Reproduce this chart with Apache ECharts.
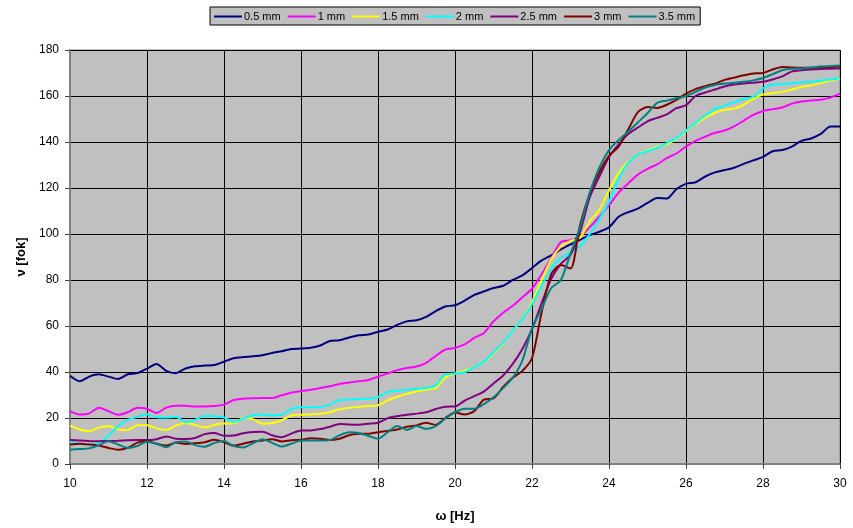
<!DOCTYPE html>
<html>
<head>
<meta charset="utf-8">
<script src="https://cdn.jsdelivr.net/npm/echarts@6/dist/echarts.min.js"></script>
<style>
  html, body { margin: 0; padding: 0; background: #ffffff; }
  #chart { width: 853px; height: 528px; }
</style>
</head>
<body>
<div id="chart"></div>
<script>
// Frequency samples (Hz)
const freq = [
  10, 10.25, 10.5, 10.75, 11, 11.25, 11.5, 11.75,
  12, 12.25, 12.5, 12.75, 13, 13.25, 13.5, 13.75,
  14, 14.25, 14.5, 14.75, 15, 15.25, 15.5, 15.75,
  16, 16.25, 16.5, 16.75, 17, 17.25, 17.5, 17.75,
  18, 18.25, 18.5, 18.75, 19, 19.25, 19.5, 19.75,
  20, 20.25, 20.5, 20.75, 21, 21.25, 21.5, 21.75,
  22, 22.25, 22.5, 22.75, 23, 23.25, 23.5, 23.75,
  24, 24.25, 24.5, 24.75, 25, 25.25, 25.5, 25.75,
  26, 26.25, 26.5, 26.75, 27, 27.25, 27.5, 27.75,
  28, 28.25, 28.5, 28.75, 29, 29.25, 29.5, 29.75,
  30
];

// Phase angle (deg) for each gap width
const gap05 = [
  38.4, 36, 38, 39, 38, 37, 39, 39.5,
  41.5, 43.5, 40.5, 39.5, 41.5, 42.5, 42.8, 43,
  44.5, 46, 46.5, 46.8, 47.3, 48.3, 49, 50,
  50.2, 50.5, 51.5, 53.5, 53.8, 55, 56, 56.3,
  57.5, 58.5, 60.5, 62, 62.5, 64, 66.5, 68.5,
  69, 71, 73.5, 75, 76.5, 77.5, 80, 82,
  85.2, 88.5, 90.7, 93.3, 95.5, 97.5, 99.5, 101,
  102.9, 107.5, 109.5, 111, 113.5, 115.7, 115.4, 119.5,
  121.8, 122.5, 125, 126.8, 127.8, 128.8, 130.5, 132,
  133.5, 136, 136.5, 138, 140.5, 141.5, 143.5, 146.7,
  146.7
];
const gap10 = [
  23, 21.5, 22, 24.5, 23, 21.4, 22.5, 24.5,
  24, 22.2, 24.5, 25.3, 25.3, 25, 25, 25.2,
  25.8, 27.8, 28.4, 28.6, 28.7, 28.7, 29.9, 31,
  31.7, 32.3, 33, 33.8, 34.8, 35.4, 36, 36.5,
  38, 39.4, 40.8, 41.7, 42.4, 44, 47, 49.8,
  50.5, 52, 54.8, 57, 62, 65.8, 68.8, 72.5,
  76.2, 82.5, 89.5, 96.5, 97.3, 99, 103, 107.5,
  112.5, 118, 122, 125.8, 128.3, 130.3, 133, 135,
  138, 140.5, 142.3, 144, 145, 146.8, 149.3, 151.8,
  153.5, 154.3, 155, 156.7, 157.6, 158, 158.4, 159.3,
  161
];
const gap15 = [
  16.7, 15, 14.2, 15.8, 16.5, 15, 14.8, 16.8,
  16.8, 15.5, 14.8, 16.7, 17.8, 17, 15.9, 17,
  17.6, 17.6, 20, 19.5, 17.5, 17.8, 19, 21.1,
  21.4, 21.6, 21.8, 22.5, 23.8, 24.4, 24.9, 25.2,
  25.5, 27.7, 29.2, 30.5, 31.5, 32.4, 33, 37.6,
  39.3, 40.5, 42, 44.5, 48, 52.5, 58, 63,
  70.5, 80, 89, 94.5, 97, 98.5, 105.5, 110.5,
  119, 126.5, 131.5, 134.5, 136.3, 138, 139, 141.5,
  144.7, 148, 150.5, 152.7, 154, 154.5, 156.2, 158.8,
  160.6, 161.2, 161.8, 162.8, 164, 164.6, 165.6, 166.7,
  167.5
];
const gap20 = [
  9.9, 8.8, 8.2, 9.5, 12.3, 16.6, 19.2, 20.5,
  21.6, 20.3, 20.2, 20.5, 18.2, 19.2, 21, 20.8,
  20.2, 18.3, 19.8, 21.2, 21.5, 21.2, 21.4, 24,
  24.7, 24.7, 24.8, 25.8, 27.8, 28, 28.3, 28.4,
  29.1, 31.3, 31.8, 32.3, 32.6, 33, 34.2, 39,
  39.3, 39.9, 42, 44.5, 48.5, 52.7, 58, 63,
  69.5, 77.5, 85, 89.7, 92, 94.5, 100, 106.5,
  114, 124, 131, 134.5, 136, 137.5, 139.5, 141.8,
  145, 148.3, 151.5, 154.3, 155.8, 157.3, 158.7, 159.7,
  163.2, 165, 165.1, 165.5, 166, 166.2, 166.7, 167.2,
  167.7
];
const gap25 = [
  10.4, 10.2, 10, 9.9, 10, 10.1, 10.3, 10.4,
  10.4, 10.8, 12, 11, 10.9, 11.3, 13, 13.5,
  12.3, 12.4, 13.4, 13.9, 14, 12.5, 11.6, 13.2,
  14.6, 14.6, 15.2, 16.2, 17.4, 17.2, 17.1, 17.5,
  17.9, 19.9, 20.8, 21.4, 21.9, 22.5, 23.9, 24.9,
  25, 27.5, 29.5, 31.5, 35, 38.5, 43.5, 50,
  58.5, 70, 80.5, 87, 91, 101, 116, 125,
  133.5, 139, 143.5, 146.3, 149, 150.5, 152, 154.7,
  156, 160, 161.5, 162.8, 164.1, 165, 165.4, 165.8,
  166.2, 167.2, 168.5, 170.7, 171.2, 171.5, 171.7, 171.9,
  172
];
const gap30 = [
  8.5, 8.8, 8.5, 8, 7, 6.2, 7, 9.3,
  10, 8.8, 8, 9.3, 8.7, 9, 9.5, 10.5,
  9.5, 8, 8.8, 9.8, 10.2, 10.8, 9.8, 10.3,
  10.5, 11.2, 11, 10.4, 11, 12.5, 13.1, 13.2,
  13.8, 14.4, 15, 16.2, 16.8, 17.9, 17, 20,
  22.4, 21.5, 23, 28, 28.5, 33.5, 37.5, 40.5,
  46, 66, 82.5, 86.5, 85, 104, 117.5, 127,
  134, 138, 145.5, 153, 155.2, 154.8, 156.2, 158.3,
  161, 163, 164.3, 165.4, 167, 168, 169, 169.8,
  170, 171.5, 172.6, 172.4, 172.3, 172.3, 172.5, 172.6,
  172.8
];
const gap35 = [
  6.2, 6.5, 6.8, 8.2, 9.9, 8.5, 7, 7.8,
  9.7, 8.8, 7.3, 9.5, 9.8, 8.2, 7.5, 9.2,
  10, 7.8, 7.2, 9, 10.8, 9.2, 7.6, 8.8,
  10.2, 10.2, 10.2, 10.4, 12.5, 13.8, 13.5, 12.2,
  11, 13.8, 16.5, 14.8, 16.5, 15.2, 16.5, 19.8,
  22.5, 24, 24, 26, 29, 33, 37.5, 45,
  59, 67.5, 76.5, 80, 91.5, 103, 118, 129,
  136.5, 140.8, 144.5, 148.5, 152.5, 157, 158, 159,
  160, 161.8, 163.7, 164.8, 165.4, 165.8, 166.2, 166.8,
  167.8, 169.5, 171.2, 171.8, 172, 172.4, 172.8, 173,
  173.3
];

const seriesNames = ['0.5 mm', '1 mm', '1.5 mm', '2 mm', '2.5 mm', '3 mm', '3.5 mm'];
const seriesValues = [gap05, gap10, gap15, gap20, gap25, gap30, gap35];
const seriesColors = ['#000080', '#ff00ff', '#ffff00', '#00ffff', '#800080', '#800000', '#008080'];

const xTicks = { min: 10, max: 30, interval: 2 };
const yTicks = { min: 0, max: 180, interval: 20 };

const FONT = '"Liberation Sans", Arial, sans-serif';

const chart = echarts.init(document.getElementById('chart'), null, { renderer: 'canvas' });

const series = seriesNames.map((name, i) => ({
  name: name,
  type: 'line',
  data: freq.map((f, k) => [f, seriesValues[i][k]]),
  showSymbol: false,
  symbol: 'none',
  smooth: 0.25,
  lineStyle: { color: seriesColors[i], width: 2 },
  itemStyle: { color: seriesColors[i] },
  emphasis: { disabled: true },
  animation: false
}));

chart.setOption({
  backgroundColor: '#ffffff',
  animation: false,
  legend: {
    data: seriesNames,
    left: 210,
    top: 7,
    padding: [4, 5, 3, 4],
    itemGap: 7,
    itemWidth: 28,
    itemHeight: 2,
    icon: 'rect',
    backgroundColor: '#c0c0c0',
    borderColor: '#000000',
    borderWidth: 1,
    borderRadius: 0,
    textStyle: { fontFamily: FONT, fontSize: 11, color: '#000000', padding: [0, 0, 0, -3] }
  },
  grid: {
    left: 70,
    right: 13,
    top: 50,
    bottom: 63,
    show: true,
    backgroundColor: '#c0c0c0',
    borderColor: '#808080',
    borderWidth: 1
  },
  xAxis: {
    type: 'value',
    min: xTicks.min,
    max: xTicks.max,
    interval: xTicks.interval,
    name: 'ω [Hz]',
    nameLocation: 'middle',
    nameGap: 46,
    nameTextStyle: { fontFamily: FONT, fontSize: 13, fontWeight: 'bold', color: '#000000' },
    axisLine: { show: true, lineStyle: { color: '#808080', width: 2 } },
    axisTick: { show: true, length: 5, lineStyle: { color: '#404040' } },
    axisLabel: { fontFamily: FONT, fontSize: 12, color: '#000000', margin: 14 },
    splitLine: { show: true, lineStyle: { color: '#000000', width: 1 } }
  },
  yAxis: {
    type: 'value',
    min: yTicks.min,
    max: yTicks.max,
    interval: yTicks.interval,
    name: 'ν [fok]',
    nameLocation: 'middle',
    nameGap: 42,
    nameRotate: 90,
    nameTextStyle: { fontFamily: FONT, fontSize: 13, fontWeight: 'bold', color: '#000000' },
    axisLine: { show: true, lineStyle: { color: '#808080', width: 2 } },
    axisTick: { show: true, length: 5, lineStyle: { color: '#404040' } },
    axisLabel: { fontFamily: FONT, fontSize: 12, color: '#000000', margin: 11 },
    splitLine: { show: true, lineStyle: { color: '#000000', width: 1 } }
  },
  series: series
});
</script>
</body>
</html>
